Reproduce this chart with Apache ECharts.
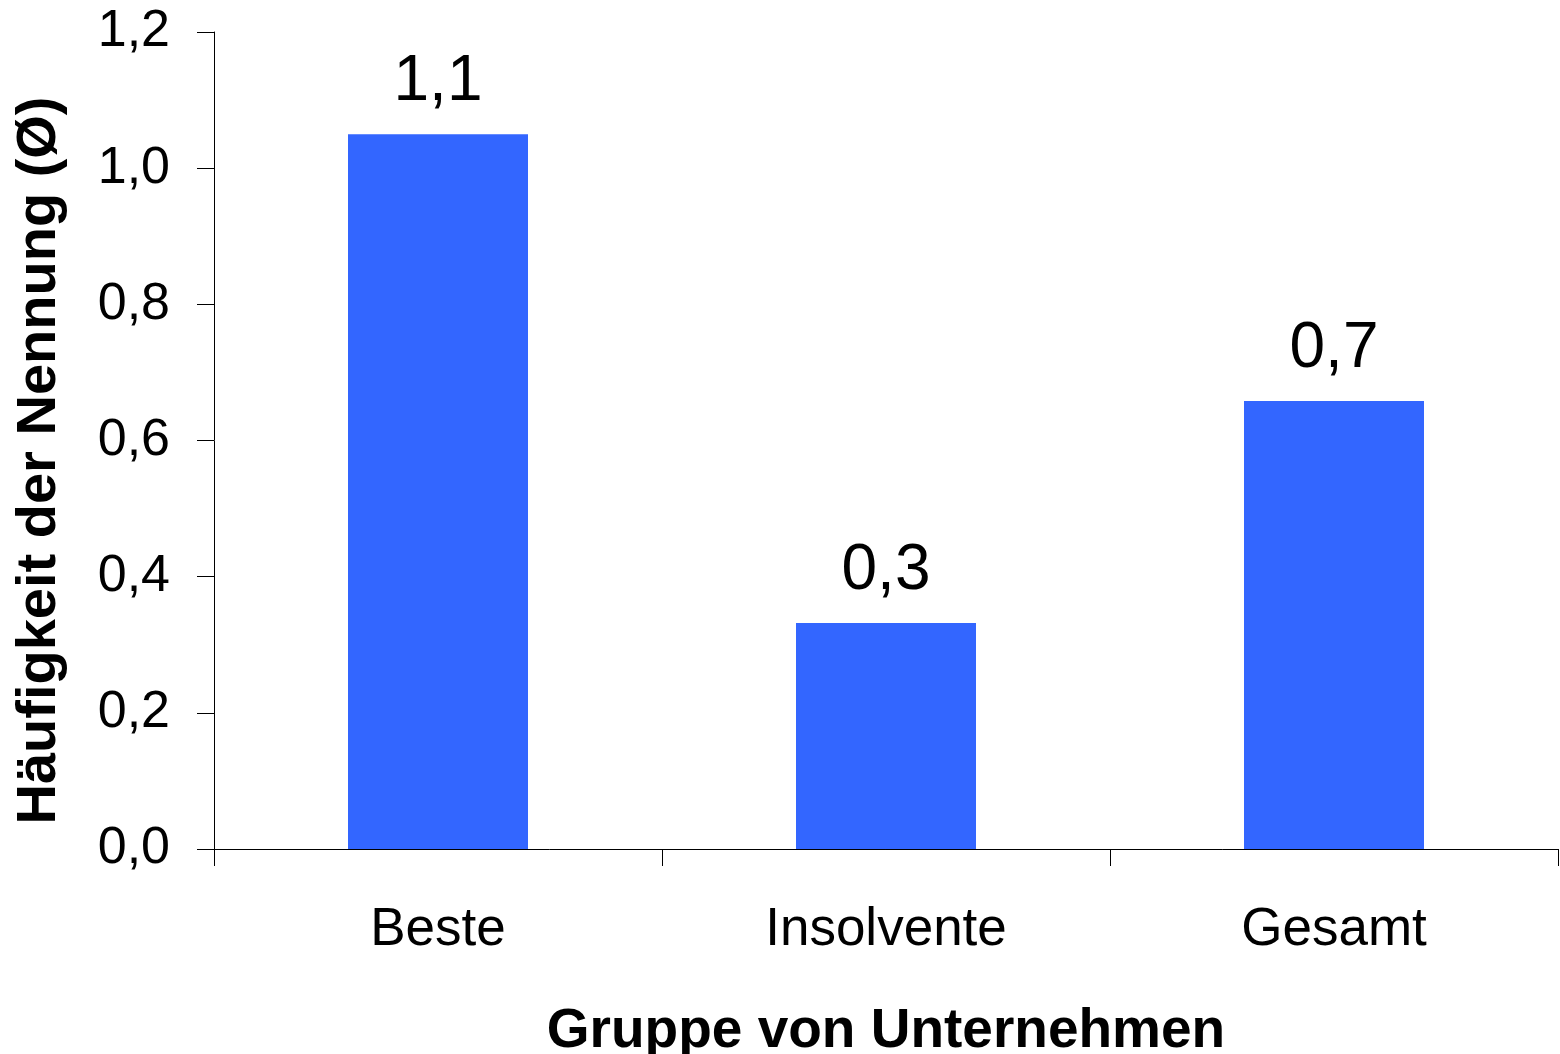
<!DOCTYPE html>
<html>
<head>
<meta charset="utf-8">
<script src="https://cdn.jsdelivr.net/npm/echarts@6/dist/echarts.min.js"></script>
<style>
html,body{margin:0;padding:0;background:#fff;}
#chart{width:1560px;height:1054px;}
</style>
</head>
<body>
<div id="chart"></div>
<script>
const categories = ['Beste', 'Insolvente', 'Gesamt'];
const values = [1.05, 0.332, 0.658];
const yTicks = [0, 0.2, 0.4, 0.6, 0.8, 1.0, 1.2];
const xTitle = 'Gruppe von Unternehmen';
const yTitle = 'Häufigkeit der Nennung (Ø)';

const FONT = '"Liberation Sans", Arial, sans-serif';
const fmt = v => (Math.round(v * 10 + 1e-9) / 10).toFixed(1).replace('.', ',');

const chart = echarts.init(document.getElementById('chart'), null, {renderer: 'canvas'});
chart.setOption({
  backgroundColor: '#ffffff',
  animation: false,
  grid: {left: 214, right: 2, top: 32, bottom: 205, containLabel: false, outerBoundsMode: 'none'},
  xAxis: {
    type: 'category',
    data: categories,
    boundaryGap: true,
    name: xTitle,
    nameLocation: 'middle',
    nameGap: 155,
    nameTextStyle: {fontFamily: FONT, fontSize: 55, fontWeight: 'bold', color: '#000'},
    axisLine: {show: true, lineStyle: {color: '#000', width: 1}},
    axisTick: {show: true, length: 17, alignWithLabel: false, lineStyle: {color: '#000'}},
    axisLabel: {fontFamily: FONT, fontSize: 53, color: '#000', margin: 55},
    splitLine: {show: false}
  },
  yAxis: {
    type: 'value',
    min: yTicks[0],
    max: yTicks[yTicks.length - 1],
    interval: 0.2,
    name: yTitle,
    nameLocation: 'middle',
    nameGap: 146,
    nameRotate: 90,
    nameTextStyle: {fontFamily: FONT, fontSize: 56, fontWeight: 'bold', color: '#000', padding: [0, 40, 0, 0]},
    axisLine: {show: true, lineStyle: {color: '#000', width: 1}},
    axisTick: {show: true, length: 17, lineStyle: {color: '#000'}},
    axisLabel: {fontFamily: FONT, fontSize: 52, color: '#000', margin: 44, formatter: v => fmt(v)},
    splitLine: {show: false}
  },
  series: [{
    type: 'bar',
    data: values,
    barWidth: 180,
    itemStyle: {color: '#3366FF'},
    label: {
      show: true,
      position: 'top',
      distance: 20,
      fontFamily: FONT,
      fontSize: 64,
      color: '#000',
      formatter: p => fmt(p.value)
    }
  }]
});
</script>
</body>
</html>
